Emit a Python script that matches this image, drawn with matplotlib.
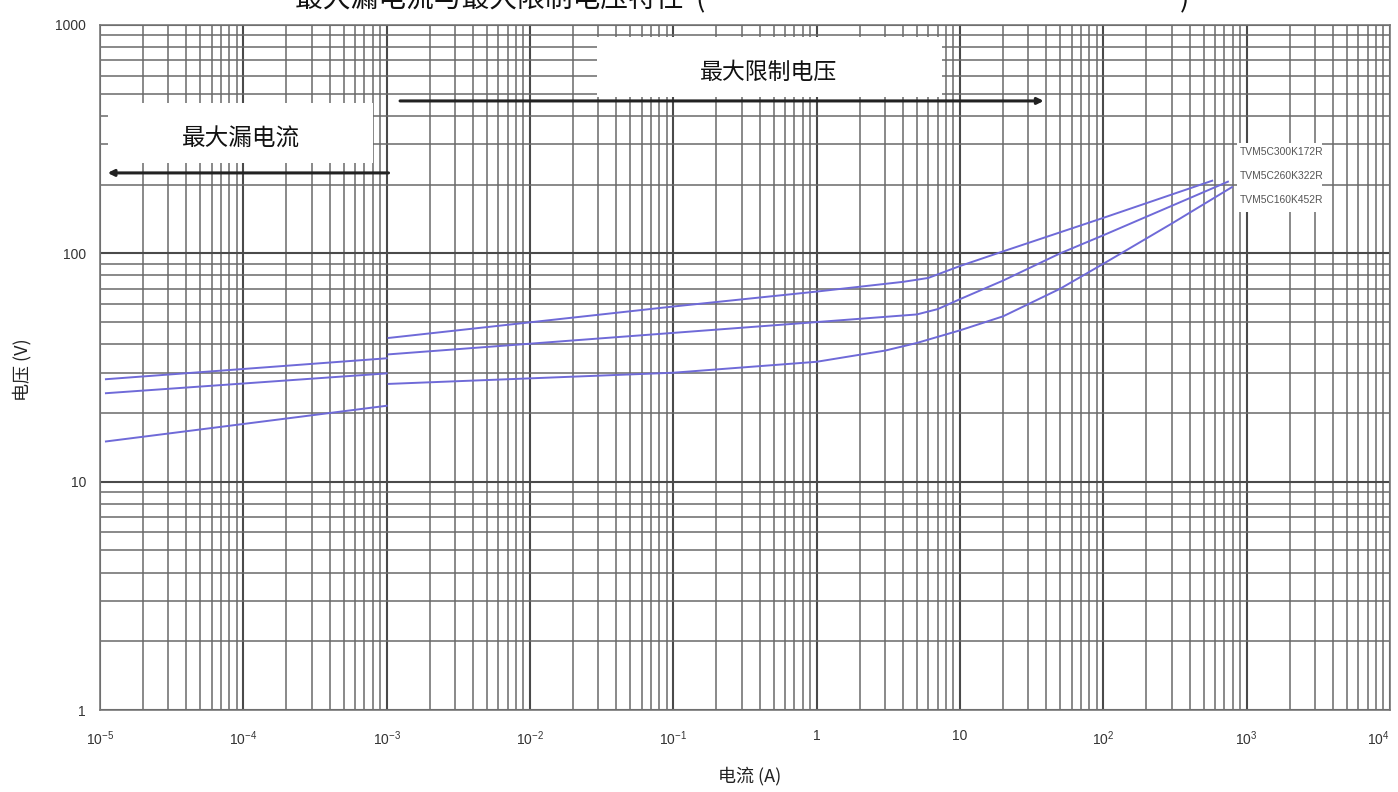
import matplotlib
matplotlib.use("Agg")
import matplotlib.pyplot as plt
from matplotlib.ticker import LogLocator, FixedLocator, FixedFormatter, NullFormatter
from matplotlib.patches import Rectangle

plt.rcParams['font.family'] = ['Noto Sans CJK SC', 'DejaVu Sans']
plt.rcParams['mathtext.fontset'] = 'custom'
plt.rcParams['mathtext.rm'] = 'Liberation Sans'

# ---------------- data ----------------
series_names = ["TVM5C300K172R", "TVM5C260K322R", "TVM5C160K452R"]

# leakage region (A, V)
leak_current = [1.1e-5, 1e-3]
leak_top = [28.1, 34.7]
leak_mid = [24.4, 29.8]
leak_bot = [15.0, 21.5]

# clamping region (A, V)
clamp_top_i = [1.03e-3, 0.1, 1, 4, 6, 10, 20, 100, 575]
clamp_top_v = [42.6, 58.5, 68, 75, 78, 88, 102, 143, 208]
clamp_mid_i = [1.03e-3, 1, 5, 7, 10, 20, 50, 100, 740]
clamp_mid_v = [36.1, 50, 54, 57, 63, 76, 100, 120, 206]
clamp_bot_i = [1.03e-3, 0.1, 1, 3, 5, 10, 20, 50, 100, 300, 790]
clamp_bot_v = [26.8, 30, 33.5, 37.5, 40.5, 46, 53, 70, 90, 135, 195]

x_ticks = [1e-5, 1e-4, 1e-3, 1e-2, 1e-1, 1, 10, 1e2, 1e3, 1e4]
x_tick_labels = ['$10^{-5}$', '$10^{-4}$', '$10^{-3}$', '$10^{-2}$', '$10^{-1}$',
                 '1', '10', '$10^{2}$', '$10^{3}$', '$10^{4}$']
y_ticks = [1, 10, 100, 1000]
y_tick_labels = ['1', '10', '100', '1000']

title_text = "最大漏电流与最大限制电压特性  ("
title_close = ")"
xlabel = "电流 (A)"
ylabel = "电压 (V)"
note_clamp = "最大限制电压"
note_leak = "最大漏电流"

# ---------------- figure ----------------
W, H = 1398, 792
fig = plt.figure(figsize=(W / 100, H / 100), dpi=100)
L, R, T, B = 100, 1390, 25, 710
ax = fig.add_axes([L / W, 1 - B / H, (R - L) / W, (B - T) / H])
ax.set_xscale('log')
ax.set_yscale('log')
ax.set_xlim(1e-5, 1e4)
ax.set_ylim(1, 1000)

ax.xaxis.set_major_locator(FixedLocator(x_ticks))
ax.xaxis.set_major_formatter(FixedFormatter(x_tick_labels))
ax.yaxis.set_major_locator(FixedLocator(y_ticks))
ax.yaxis.set_major_formatter(FixedFormatter(y_tick_labels))
ax.xaxis.set_minor_locator(LogLocator(base=10, subs=range(2, 10), numticks=30))
ax.yaxis.set_minor_locator(LogLocator(base=10, subs=range(2, 10), numticks=30))
ax.xaxis.set_minor_formatter(NullFormatter())
ax.yaxis.set_minor_formatter(NullFormatter())

ax.grid(True, which='major', color='#4a4a4a', lw=1.5, zorder=0)
ax.grid(True, which='minor', color='#6a6a6a', lw=1.1, zorder=0)
ax.set_axisbelow(True)
for s in ax.spines.values():
    s.set_color('#777777')
    s.set_linewidth(1.2)
ax.tick_params(which='both', length=0)
ax.tick_params(axis='x', pad=14, labelsize=10, labelcolor='#333333')
ax.tick_params(axis='y', pad=10, labelsize=10, labelcolor='#333333')
for lbl in ax.get_xticklabels() + ax.get_yticklabels():
    lbl.set_family(['Liberation Sans', 'DejaVu Sans'])
ax.get_xticklabels()[-1].set_horizontalalignment('right')

line_color = '#6f6ad8'
for xv, yv in [(leak_current, leak_top), (leak_current, leak_mid), (leak_current, leak_bot),
               (clamp_top_i, clamp_top_v), (clamp_mid_i, clamp_mid_v), (clamp_bot_i, clamp_bot_v)]:
    ax.plot(xv, yv, color=line_color, lw=1.4, zorder=3)

# annotation boxes (axes fraction)
def frac_x(px):
    return (px - L) / (R - L)

def frac_y(py):
    return (B - py) / (B - T)

for (x0, x1, y0, y1) in [(597, 942, 37, 97), (108, 373, 103, 163), (1237, 1322, 143, 212)]:
    ax.add_patch(Rectangle((frac_x(x0), frac_y(y1)), frac_x(x1) - frac_x(x0), frac_y(y0) - frac_y(y1),
                           transform=ax.transAxes, facecolor='white', edgecolor='none', zorder=4))

ax.text(frac_x(769), frac_y(72), note_clamp, transform=ax.transAxes, ha='center', va='center',
        fontsize=16.5, color='#111111', zorder=5)
ax.text(frac_x(241), frac_y(139), note_leak, transform=ax.transAxes, ha='center', va='center',
        fontsize=17, color='#111111', zorder=5)

ax.annotate('', xy=(38.4, 465), xytext=(1.24e-3, 465),
            arrowprops=dict(arrowstyle='-|>', color='#222222', lw=2.2, mutation_scale=9,
                            shrinkA=0, shrinkB=0), zorder=5)
ax.annotate('', xy=(1.13e-5, 225), xytext=(1.03e-3, 225),
            arrowprops=dict(arrowstyle='-|>', color='#222222', lw=2.2, mutation_scale=9,
                            shrinkA=0, shrinkB=0), zorder=5)

for i, name in enumerate(series_names):
    ax.text(frac_x(1240), frac_y(152 + 24 * i), name, transform=ax.transAxes, ha='left', va='center',
            fontsize=7.4, color='#555555', zorder=5,
            family=['Liberation Sans Narrow', 'Liberation Sans', 'DejaVu Sans'])

fig.text(22 / W, 1 - 370 / H, ylabel, rotation=90, ha='center', va='center', fontsize=13, color='#222222')
fig.text(750 / W, 1 - 776 / H, xlabel, ha='center', va='center', fontsize=13, color='#222222')

fig.text(295 / W, 1 - 7 / H, title_text, ha='left', va='baseline', fontsize=20, color='#111111')
fig.text(1180 / W, 1 - 7 / H, title_close, ha='left', va='baseline', fontsize=20, color='#111111')

fig.savefig('out.png', dpi=100, facecolor='white')
